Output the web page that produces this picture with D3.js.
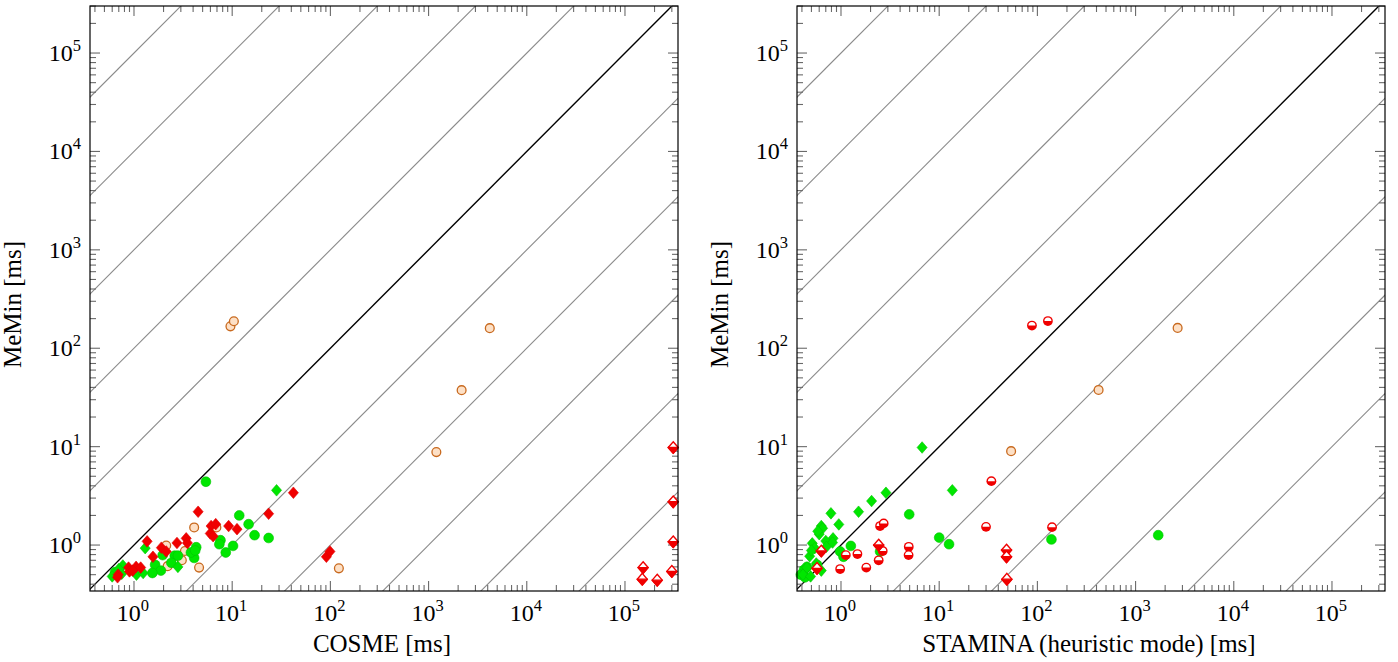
<!DOCTYPE html>
<html><head><meta charset="utf-8">
<script src="https://cdn.jsdelivr.net/npm/d3@7"></script>
<style>body{margin:0;background:#fff}svg{display:block}text{font-family:"Liberation Serif","Times New Roman",serif;fill:#000}</style>
</head><body><svg id="c" width="1398" height="662"></svg>
<script>
// ---------- data ----------
const decadeTicks = [1, 10, 100, 1000, 10000, 100000];
const tickExponents = ["0", "1", "2", "3", "4", "5"];
const diagonalOffsets = [-6, -5, -4, -3, -2, -1, 0, 1, 2, 3, 4, 5];
const xLabels = ["COSME [ms]", "STAMINA (heuristic mode) [ms]"];
const yLabel = "MeMin [ms]";

// left panel: COSME vs MeMin  [x, y]
const cosmeGreenCircles = [[5.4,4.4],[11.8,2.0],[14.7,1.63],[16.9,1.26],[23.5,1.18],[7.6,1.12],[7.4,1.02],[10.2,0.98],[8.6,0.84],[4.3,0.95],[4.1,0.74],[3.8,0.84],[2.6,0.78],[2.8,0.78],[1.96,0.79],[1.64,0.63],[1.88,0.55],[1.54,0.52],[0.64,0.53],[4.2,0.88],[2.4,0.66]];
const cosmeGreenDiamonds = [[28.3,3.6],[1.3,0.93],[2.8,0.6],[0.77,0.62],[0.6,0.48],[1.06,0.5],[1.24,0.52],[0.75,0.51],[0.7,0.57]];
const cosmeRedDiamonds = [[42,3.4],[23.5,2.08],[4.5,2.18],[6.1,1.56],[6.8,1.63],[5.98,1.31],[6.4,1.23],[9.2,1.56],[11.2,1.45],[91,0.76],[99,0.86],[1.36,1.09],[1.9,0.94],[2.13,0.86],[1.56,0.76],[2.74,1.05],[3.4,1.17],[3.5,1.05],[0.88,0.59],[1.05,0.6],[1.17,0.59],[0.9,0.54],[0.69,0.5],[0.68,0.47],[0.97,0.55]];
const cosmeOrangeCircles = [[4.1,1.51],[6.9,1.51],[2.13,0.99],[3.3,0.87],[3.07,0.7],[2.2,0.61],[4.6,0.59],[122,0.58],[9.6,167],[10.4,188],[4200,160],[2170,37.5],[1200,8.8]];
const cosmeRedHalfDiamonds = [[310000,9.8],[310000,2.75],[310000,1.08],[300000,0.54],[153000,0.59],[150000,0.45],[213000,0.44]];

// right panel: STAMINA vs MeMin  [x, y]
const staminaGreenDiamonds = [[6.7,9.8],[13.6,3.6],[2.87,3.4],[2.05,2.8],[1.51,2.18],[0.79,2.1],[0.95,1.62],[0.63,1.56],[0.65,1.48],[0.6,1.29],[0.83,1.17],[0.51,1.04],[0.7,1.1],[0.82,1.06],[0.54,0.93],[0.71,0.96],[0.48,0.77],[0.63,0.55],[0.45,0.59],[0.41,0.5],[0.49,0.48],[0.56,0.65],[0.58,1.38],[0.5,0.88]];
const staminaGreenCircles = [[4.95,2.05],[10,1.19],[12.6,1.02],[139,1.14],[1700,1.26],[1.26,0.98],[0.98,0.86],[1.06,0.76],[2.5,0.86],[0.42,0.56],[0.39,0.5],[0.45,0.6],[0.57,0.63],[0.43,0.47]];
const staminaRedHalfCircles = [[88,170],[128,189],[34,4.46],[30,1.53],[141,1.52],[2.5,1.56],[2.72,1.66],[4.9,0.96],[4.88,0.79],[2.66,0.87],[2.42,0.7],[1.47,0.81],[1.12,0.79],[1.81,0.59],[0.98,0.57]];
const staminaRedHalfDiamonds = [[2.42,1.0],[48.5,0.89],[48.5,0.76],[48.9,0.45],[0.63,0.87],[0.57,0.58]];
const staminaOrangeCircles = [[54,9.0],[2680,161],[420,37.7]];

// ---------- drawing ----------
const svg = d3.select("#c");
const plotTop = 6, plotBottom = 591;
const xDom = [Math.pow(10,-0.448), Math.pow(10,5.54)];
const yDom = [Math.pow(10,-0.467), Math.pow(10,5.478)];
const GREEN = "#00e600", GREEN_S = "#00c400", RED = "#f00000", RED_S = "#e00000";
const FONT = "'Liberation Serif','Times New Roman',serif";

const panels = [
  {x0: 90, x1: 678, xlabel: xLabels[0], id: "L",
   series: [
     {data: cosmeOrangeCircles, kind: "ocircle"},
     {data: cosmeGreenCircles, kind: "gcircle"},
     {data: cosmeGreenDiamonds, kind: "gdiamond"},
     {data: cosmeRedDiamonds, kind: "rdiamond"},
     {data: cosmeRedHalfDiamonds, kind: "rhalfdiamond"}]},
  {x0: 797, x1: 1385, xlabel: xLabels[1], id: "R",
   series: [
     {data: staminaGreenCircles, kind: "gcircle"},
     {data: staminaGreenDiamonds, kind: "gdiamond"},
     {data: staminaOrangeCircles, kind: "ocircle"},
     {data: staminaRedHalfCircles, kind: "rhalfcircle"},
     {data: staminaRedHalfDiamonds, kind: "rhalfdiamond"}]}
];

function minorValues(dom) {
  const out = [];
  for (let d = -1; d <= 6; d++) for (let m = 2; m <= 9; m++) {
    const v = m * Math.pow(10, d);
    if (v > dom[0] && v < dom[1]) out.push(v);
  }
  return out;
}

panels.forEach(p => {
  const x = d3.scaleLog().domain(xDom).range([p.x0, p.x1]);
  const y = d3.scaleLog().domain(yDom).range([plotBottom, plotTop]);
  const g = svg.append("g").attr("font-family", FONT);
  const clipId = "clip" + p.id;
  svg.append("clipPath").attr("id", clipId).append("rect")
    .attr("x", p.x0).attr("y", plotTop).attr("width", p.x1 - p.x0).attr("height", plotBottom - plotTop);

  // diagonal reference lines y = x * 10^k
  const lg = g.append("g").attr("clip-path", `url(#${clipId})`);
  diagonalOffsets.forEach(k => {
    const f = Math.pow(10, k);
    const a = xDom[0] / 10, b = xDom[1] * 10;
    lg.append("line")
      .attr("x1", x(a)).attr("y1", y(a * f)).attr("x2", x(b)).attr("y2", y(b * f))
      .attr("stroke", k === 0 ? "#000" : "#8a8a8a")
      .attr("stroke-width", k === 0 ? 1.4 : 1.1);
  });

  // axes ticks (inward on all four sides)
  const tg = g.append("g").attr("stroke", "#6a6a6a").attr("stroke-width", 1.1);
  const xMinor = minorValues(xDom), yMinor = minorValues(yDom);
  const MAJ = 10, MIN = 6;
  decadeTicks.forEach(v => {
    tg.append("line").attr("x1", x(v)).attr("x2", x(v)).attr("y1", plotBottom).attr("y2", plotBottom - MAJ);
    tg.append("line").attr("x1", x(v)).attr("x2", x(v)).attr("y1", plotTop).attr("y2", plotTop + MAJ);
    tg.append("line").attr("y1", y(v)).attr("y2", y(v)).attr("x1", p.x0).attr("x2", p.x0 + MAJ);
    tg.append("line").attr("y1", y(v)).attr("y2", y(v)).attr("x1", p.x1).attr("x2", p.x1 - MAJ);
  });
  xMinor.forEach(v => {
    tg.append("line").attr("x1", x(v)).attr("x2", x(v)).attr("y1", plotBottom).attr("y2", plotBottom - MIN);
    tg.append("line").attr("x1", x(v)).attr("x2", x(v)).attr("y1", plotTop).attr("y2", plotTop + MIN);
  });
  yMinor.forEach(v => {
    tg.append("line").attr("y1", y(v)).attr("y2", y(v)).attr("x1", p.x0).attr("x2", p.x0 + MIN);
    tg.append("line").attr("y1", y(v)).attr("y2", y(v)).attr("x1", p.x1).attr("x2", p.x1 - MIN);
  });

  // markers
  const mg = g.append("g");
  p.series.forEach(s => {
    s.data.forEach(d => {
      const cx = x(d[0]), cy = y(d[1]);
      const r = 4.9, dd = 5.8;
      const dpath = `M${cx},${cy-dd}L${cx+dd*0.87},${cy}L${cx},${cy+dd}L${cx-dd*0.87},${cy}Z`;
      if (s.kind === "gcircle") {
        mg.append("circle").attr("cx", cx).attr("cy", cy).attr("r", r).attr("fill", GREEN).attr("stroke", GREEN_S).attr("stroke-width", 0.6);
      } else if (s.kind === "ocircle") {
        mg.append("circle").attr("cx", cx).attr("cy", cy).attr("r", r - 0.5).attr("fill", "#fde0c6").attr("stroke", "#c8691e").attr("stroke-width", 1.3);
      } else if (s.kind === "gdiamond") {
        mg.append("path").attr("d", dpath).attr("fill", GREEN).attr("stroke", GREEN_S).attr("stroke-width", 0.6);
      } else if (s.kind === "rdiamond") {
        mg.append("path").attr("d", dpath).attr("fill", RED).attr("stroke", RED_S).attr("stroke-width", 0.6);
      } else if (s.kind === "rhalfcircle") {
        mg.append("circle").attr("cx", cx).attr("cy", cy).attr("r", r).attr("fill", RED);
        const ri = r - 1.4;
        mg.append("path").attr("d", `M${cx-ri},${cy}A${ri},${ri} 0 0 1 ${cx+ri},${cy}Z`).attr("fill", "#fff");
      } else if (s.kind === "rhalfdiamond") {
        mg.append("path").attr("d", dpath).attr("fill", "#fff").attr("stroke", RED).attr("stroke-width", 1.4);
        mg.append("path").attr("d", `M${cx-dd*0.87},${cy}L${cx+dd*0.87},${cy}L${cx},${cy+dd}Z`).attr("fill", RED).attr("stroke", RED).attr("stroke-width", 1.4).attr("stroke-linejoin", "round");
      }
    });
  });

  // frame
  g.append("rect").attr("x", p.x0).attr("y", plotTop).attr("width", p.x1 - p.x0).attr("height", plotBottom - plotTop)
    .attr("fill", "none").attr("stroke", "#000").attr("stroke-width", 1.2);

  // tick labels
  decadeTicks.forEach((v, i) => {
    const tx = g.append("text").attr("x", x(v) - 1).attr("y", 621).attr("text-anchor", "middle").attr("font-size", 24);
    tx.append("tspan").text("10");
    tx.append("tspan").attr("dy", -10).attr("font-size", 16.5).text(tickExponents[i]);
    const ty = g.append("text").attr("x", p.x0 - 9).attr("y", y(v) + 8).attr("text-anchor", "end").attr("font-size", 24);
    ty.append("tspan").text("10");
    ty.append("tspan").attr("dy", -10).attr("font-size", 16.5).text(tickExponents[i]);
  });

  // axis labels
  g.append("text").attr("x", (p.x0 + p.x1) / 2 - 2).attr("y", 652).attr("text-anchor", "middle").attr("font-size", 25).text(p.xlabel);
  g.append("text").attr("transform", `translate(${p.x0 - 69},${(plotTop + plotBottom) / 2 + 6}) rotate(-90)`)
    .attr("text-anchor", "middle").attr("font-size", 25).text(yLabel);
});
</script></body></html>
